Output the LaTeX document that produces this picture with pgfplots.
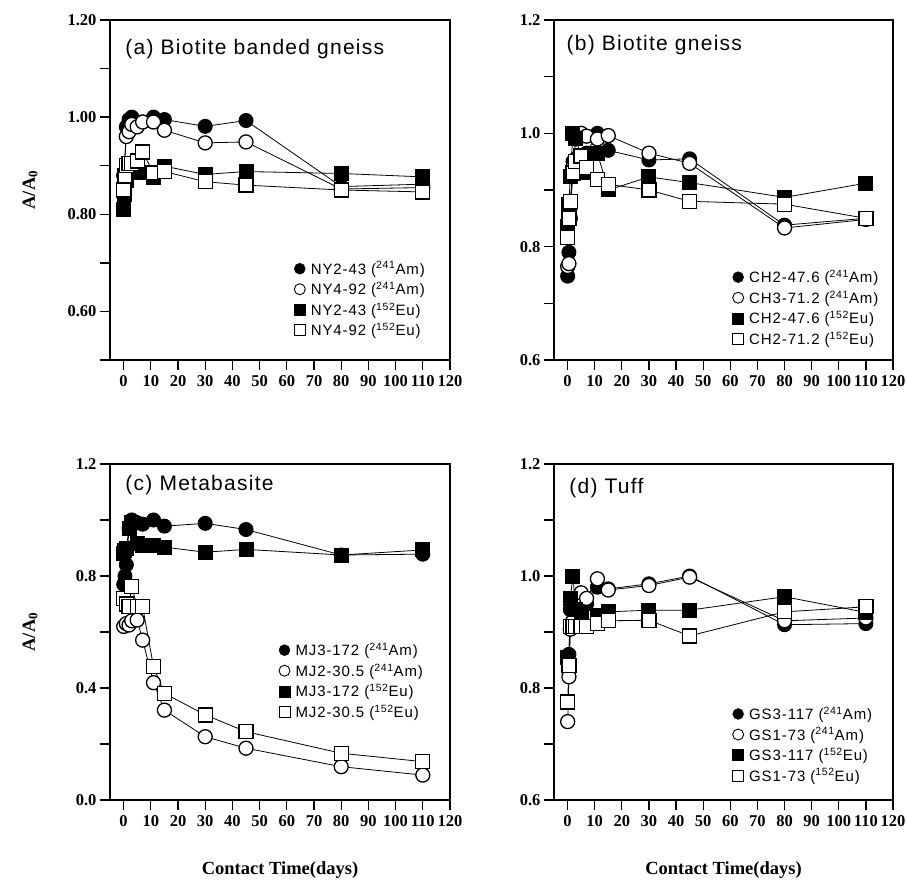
\documentclass[border=0pt]{standalone}
\usepackage{fontspec}
\setmainfont{Liberation Serif}
\newfontfamily\sfw[LetterSpace=6]{Liberation Sans}
\usepackage{pgfplots}
\pgfplotsset{compat=1.18}

\pgfplotsset{
  panel/.style={
    scale only axis, width=340pt,
    xmin=-5, xmax=120, xtick={0,10,...,120},
    tick align=outside, xtick pos=bottom, ytick pos=left,
    major tick length=10pt, minor tick length=10pt,
    tick style={black, line width=1.3pt},
    axis line style={line width=1.3pt},
    tick label style={font=\fontsize{16.5}{16.5}\selectfont\bfseries},
    /pgf/number format/assume math mode=true,
    xticklabel style={yshift=-2pt},
    legend cell align=left,
    legend image code/.code={\path[draw=none, fill=none] (0pt,0pt) rectangle (15pt,0.1pt);
      \draw[##1, only marks] plot coordinates {(6pt,0pt)};},
    legend style={draw=none, fill=none, inner sep=0pt,
      font=\sfw\fontsize{15}{15}\selectfont, row sep=2.5pt},
    label style={font=\fontsize{18.5}{18.5}\selectfont\bfseries},
  },
}
\tikzset{
  fc/.style={black, line width=0.8pt, mark=*, mark size=7pt, mark options={fill=black, line width=1pt}},
  oc/.style={black, line width=0.8pt, mark=*, mark size=7pt, mark options={fill=white, line width=1.3pt}},
  fs/.style={black, line width=0.8pt, mark=square*, mark size=7pt, mark options={fill=black, line width=1pt}},
  os/.style={black, line width=0.8pt, mark=square*, mark size=7pt, mark options={fill=white, line width=1.3pt}},
  lfc/.style={mark=*, mark size=5.5pt, mark options={fill=black, draw=black}},
  loc/.style={mark=*, mark size=5.5pt, mark options={fill=white, draw=black, line width=0.9pt}},
  lfs/.style={mark=square*, mark size=5.5pt, mark options={fill=black, draw=black}},
  los/.style={mark=square*, mark size=5.5pt, mark options={fill=white, draw=black, line width=0.9pt}},
  ttl/.style={anchor=north west, font=\sfw\fontsize{21}{21}\selectfont},
}

\begin{document}
\begin{tikzpicture}
\useasboundingbox (0pt,0pt) rectangle (907pt,881pt);

% (a)
\begin{axis}[panel, at={(110pt,521pt)}, anchor=south west, height=340pt,
  ymin=0.5, ymax=1.2, ytick={0.6,0.8,1.0,1.2}, minor ytick={0.5,0.7,0.9,1.1},
  yticklabel style={/pgf/number format/.cd, fixed, fixed zerofill, precision=2},
  ylabel={A/A\textsubscript{0}}, ylabel style={at={(rel axis cs:-0.235,0.5)}, anchor=center},
  legend style={at={(rel axis cs:0.54,0.06)}, anchor=south west}]
\addplot[fc, forget plot] coordinates {(0.04,0.86) (1,0.98) (2,0.995) (3,1.0) (5,0.99) (7,0.99) (11,1.0) (15,0.995) (30,0.981) (45,0.993) (80,0.857) (110,0.862)};
\addplot[oc, forget plot] coordinates {(0.04,0.88) (1,0.96) (2,0.97) (3,0.985) (5,0.98) (7,0.99) (11,0.99) (15,0.973) (30,0.947) (45,0.949) (80,0.852) (110,0.855)};
\addplot[fs, forget plot] coordinates {(0.04,0.81) (0.5,0.84) (1,0.87) (2,0.885) (3,0.895) (5,0.89) (7,0.885) (11,0.876) (15,0.899) (30,0.882) (45,0.888) (80,0.884) (110,0.877)};
\addplot[os, forget plot] coordinates {(0.04,0.85) (0.5,0.88) (1,0.90) (2,0.905) (3,0.905) (5,0.91) (7,0.928) (11,0.885) (15,0.888) (30,0.867) (45,0.86) (80,0.85) (110,0.846)};
\addlegendimage{lfc}\addlegendentry{NY2-43 (\textsuperscript{241}Am)}
\addlegendimage{loc}\addlegendentry{NY4-92 (\textsuperscript{241}Am)}
\addlegendimage{lfs}\addlegendentry{NY2-43 (\textsuperscript{152}Eu)}
\addlegendimage{los}\addlegendentry{NY4-92 (\textsuperscript{152}Eu)}
\node[ttl] at (rel axis cs:0.035,0.955) {(a) Biotite banded gneiss};
\end{axis}

% (b)
\begin{axis}[panel, at={(554pt,521pt)}, anchor=south west, height=340pt, width=339pt,
  ymin=0.6, ymax=1.2, ytick={0.6,0.8,1.0,1.2}, minor ytick={0.7,0.9,1.1},
  yticklabel style={/pgf/number format/.cd, fixed, fixed zerofill, precision=1},
  legend style={at={(rel axis cs:0.525,0.035)}, anchor=south west}]
\addplot[fc, forget plot] coordinates {(0.04,0.748) (0.5,0.79) (1,0.87) (2,0.95) (3,0.955) (5,0.96) (7,0.965) (11,1.0) (15,0.97) (30,0.953) (45,0.955) (80,0.838) (110,0.85)};
\addplot[oc, forget plot] coordinates {(0.04,0.765) (0.5,0.77) (1,0.85) (2,0.94) (3,0.99) (5,1.0) (7,0.995) (11,0.99) (15,0.996) (30,0.965) (45,0.947) (80,0.833) (110,0.848)};
\addplot[fs, forget plot] coordinates {(0.04,0.835) (0.5,0.875) (1,0.923) (2,1.0) (3,0.99) (5,0.96) (7,0.93) (11,0.965) (15,0.90) (30,0.923) (45,0.913) (80,0.887) (110,0.912)};
\addplot[os, forget plot] coordinates {(0.04,0.816) (0.5,0.85) (1,0.88) (2,0.93) (3,0.95) (5,0.96) (7,0.94) (11,0.918) (15,0.91) (30,0.90) (45,0.88) (80,0.875) (110,0.85)};
\addlegendimage{lfc}\addlegendentry{CH2-47.6 (\textsuperscript{241}Am)}
\addlegendimage{loc}\addlegendentry{CH3-71.2 (\textsuperscript{241}Am)}
\addlegendimage{lfs}\addlegendentry{CH2-47.6 (\textsuperscript{152}Eu)}
\addlegendimage{los}\addlegendentry{CH2-71.2 (\textsuperscript{152}Eu)}
\node[ttl] at (rel axis cs:0.027,0.964) {(b) Biotite gneiss};
\end{axis}

% (c)
\begin{axis}[panel, at={(110pt,81pt)}, anchor=south west, height=336pt,
  ymin=0, ymax=1.2, ytick={0,0.4,0.8,1.2}, minor ytick={0.2,0.6,1.0},
  yticklabel style={/pgf/number format/.cd, fixed, fixed zerofill, precision=1},
  ylabel={A/A\textsubscript{0}}, ylabel style={at={(rel axis cs:-0.235,0.5)}, anchor=center},
  xlabel={Contact Time(days)}, xlabel style={at={(rel axis cs:0.5,0)}, yshift=-70pt, anchor=center},
  legend style={at={(rel axis cs:0.495,0.235)}, anchor=south west}]
\addplot[fc, forget plot] coordinates {(0.04,0.77) (0.5,0.80) (1,0.84) (2,0.97) (3,1.0) (5,0.99) (7,0.985) (11,1.0) (15,0.978) (30,0.988) (45,0.966) (80,0.875) (110,0.878)};
\addplot[oc, forget plot] coordinates {(0.04,0.62) (1,0.63) (2,0.625) (3,0.64) (5,0.643) (7,0.571) (11,0.419) (15,0.321) (30,0.226) (45,0.185) (80,0.119) (110,0.089)};
\addplot[fs, forget plot] coordinates {(0.04,0.88) (0.5,0.89) (1,0.90) (2,0.97) (3,0.99) (5,0.915) (7,0.91) (11,0.91) (15,0.903) (30,0.885) (45,0.895) (80,0.875) (110,0.893)};
\addplot[os, forget plot] coordinates {(0.04,0.72) (1,0.70) (2,0.69) (3,0.762) (5,0.69) (7,0.69) (11,0.476) (15,0.381) (30,0.304) (45,0.244) (80,0.167) (110,0.137)};
\addlegendimage{lfc}\addlegendentry{MJ3-172 (\textsuperscript{241}Am)}
\addlegendimage{loc}\addlegendentry{MJ2-30.5 (\textsuperscript{241}Am)}
\addlegendimage{lfs}\addlegendentry{MJ3-172 (\textsuperscript{152}Eu)}
\addlegendimage{los}\addlegendentry{MJ2-30.5 (\textsuperscript{152}Eu)}
\node[ttl] at (rel axis cs:0.035,0.976) {(c) Metabasite};
\end{axis}

% (d)
\begin{axis}[panel, at={(554pt,81pt)}, anchor=south west, height=336pt, width=339pt,
  ymin=0.6, ymax=1.2, ytick={0.6,0.8,1.0,1.2}, minor ytick={0.7,0.9,1.1},
  yticklabel style={/pgf/number format/.cd, fixed, fixed zerofill, precision=1},
  xlabel={Contact Time(days)}, xlabel style={at={(rel axis cs:0.5,0)}, yshift=-70pt, anchor=center},
  legend style={at={(rel axis cs:0.525,0.045)}, anchor=south west}]
\addplot[fc, forget plot] coordinates {(0.04,0.85) (0.5,0.86) (1,0.94) (2,0.955) (3,0.96) (5,0.945) (7,0.95) (11,0.98) (15,0.977) (30,0.986) (45,1.0) (80,0.913) (110,0.915)};
\addplot[oc, forget plot] coordinates {(0.04,0.74) (0.5,0.82) (1,0.905) (2,0.92) (3,0.96) (5,0.97) (7,0.96) (11,0.995) (15,0.975) (30,0.983) (45,0.998) (80,0.92) (110,0.925)};
\addplot[fs, forget plot] coordinates {(0.04,0.855) (0.5,0.84) (1,0.96) (2,1.0) (3,0.94) (5,0.93) (7,0.91) (11,0.93) (15,0.936) (30,0.939) (45,0.939) (80,0.963) (110,0.935)};
\addplot[os, forget plot] coordinates {(0.04,0.775) (0.5,0.84) (1,0.91) (2,0.91) (3,0.91) (5,0.91) (7,0.91) (11,0.915) (15,0.92) (30,0.921) (45,0.893) (80,0.936) (110,0.945)};
\addlegendimage{lfc}\addlegendentry{GS3-117 (\textsuperscript{241}Am)}
\addlegendimage{loc}\addlegendentry{GS1-73 (\textsuperscript{241}Am)}
\addlegendimage{lfs}\addlegendentry{GS3-117 (\textsuperscript{152}Eu)}
\addlegendimage{los}\addlegendentry{GS1-73 (\textsuperscript{152}Eu)}
\node[ttl] at (rel axis cs:0.035,0.967) {(d) Tuff};
\end{axis}
\end{tikzpicture}
\end{document}
